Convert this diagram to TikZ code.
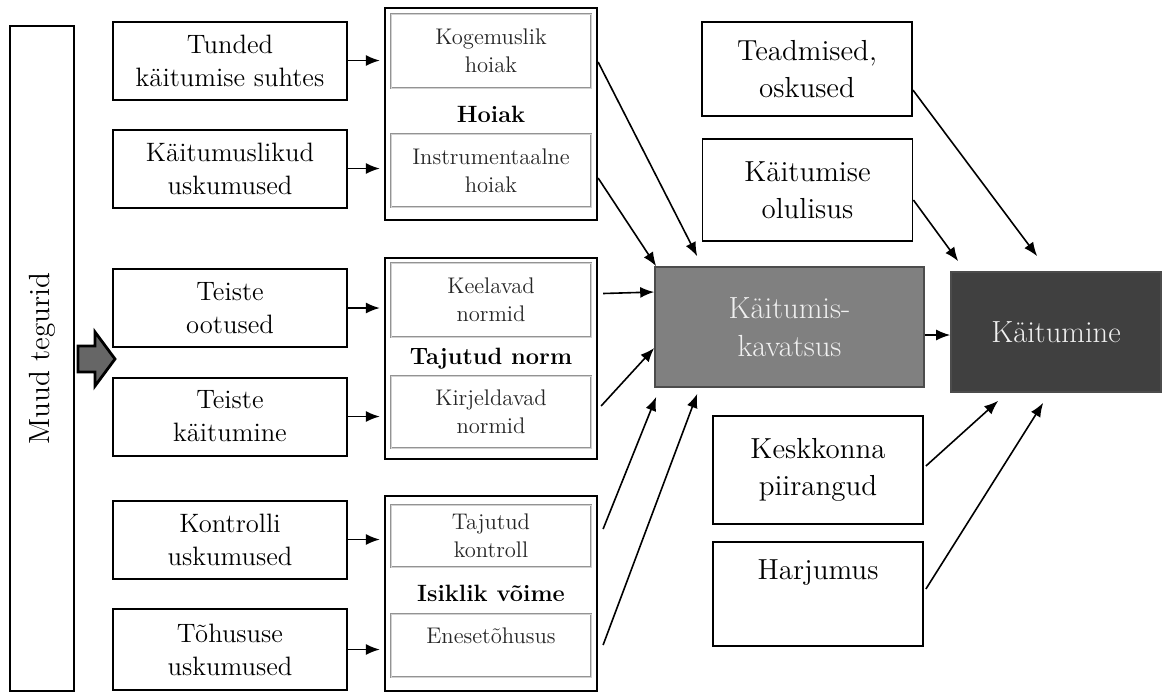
\documentclass[tikz,border=0pt]{standalone}
\usepackage{fontspec}
\usepackage{tikz}
\usetikzlibrary{arrows.meta}

\begin{document}
\begin{tikzpicture}[x=0.5pt,y=-0.5pt]
	\tikzstyle{every node}=[align=center, inner sep=0pt]
	\tikzstyle{faktor}=[draw, line width=1pt, minimum width=117pt, minimum height=39pt, font=\fontsize{13.3}{16.5}\selectfont]
	\tikzstyle{grupp}=[draw, line width=1.1pt, minimum width=106pt, font=\bfseries\fontsize{11.8}{14}\selectfont]
	\tikzstyle{alam}=[draw=gray!85, double=gray!35, double distance=0.5pt, line width=0.45pt, minimum width=100pt, text=black!85, font=\fontsize{11.3}{14}\selectfont]
	\tikzstyle{muu}=[draw, line width=0.9pt, minimum width=105pt, font=\fontsize{14.5}{18.5}\selectfont]
	\tikzstyle{tume}=[draw=black!70, line width=0.8pt, text=white!94!black, minimum height=60pt, font=\fontsize{15.3}{19}\selectfont]
	\tikzstyle{pil}=[-{Latex[length=7pt,width=5.5pt]}, line width=0.8pt]
	
	\useasboundingbox (0,0) rectangle (1163,693);
	
	\node[faktor, rotate=90, minimum width=332.5pt, minimum height=32pt, font=\fontsize{14.6}{17}\selectfont] (muud) at (42,358.5) {Muud tegurid};
	\draw[fill=black!60, line width=1.4pt, line join=miter] (78,346) -- (95,346) -- (95,332) -- (115,359) -- (95,386) -- (95,372) -- (78,372) -- cycle;
	
	\node[faktor] (tunded) at (230,60.5) {Tunded\\käitumise suhtes};
	\node[faktor] (kaitusk) at (230,168.5) {Käitumuslikud\\uskumused};
	\node[faktor] (ootused) at (230,308) {Teiste\\ootused};
	\node[faktor] (teistek) at (230,416.5) {Teiste\\käitumine};
	\node[faktor] (kontrolli) at (230,539.5) {Kontrolli\\uskumused};
	\node[faktor, minimum height=40.5pt] (tohusus) at (230,649.5) {Tõhususe\\uskumused};
	
	\node[grupp, minimum height=106pt] (hoiak) at (491,114) {Hoiak};
	\node[alam, minimum height=37pt] (kogemus) at (491,51) {Kogemuslik\\hoiak};
	\node[alam, minimum height=36.5pt] (instrum) at (491,170.5) {Instrumentaalne\\hoiak};
	
	\node[grupp, minimum height=100.5pt] (norm) at (491,358.5) {Tajutud norm};
	\node[alam, minimum height=37pt] (keelavad) at (491,300) {Keelavad\\normid};
	\node[alam, minimum height=36pt] (kirjeld) at (491,412) {Kirjeldavad\\normid};
	
	\node[grupp, minimum height=97.5pt] (voime) at (491,593.5) {Isiklik võime};
	\node[alam, minimum height=31pt] (tajkontroll) at (491,536) {Tajutud\\kontroll};
	\node[alam, minimum height=31.5pt] (enese) at (491,645.5) {Enesetõhusus\\[-4pt]\mbox{}};
	
	\node[muu, minimum height=47pt] (teadmised) at (807,69) {Teadmised,\\oskused};
	\node[muu, minimum height=51pt] (olulisus) at (807.5,190) {Käitumise\\olulisus};
	\node[tume, fill=black!50, minimum width=134.5pt] (kavatsus) at (789.5,327) {Käitumis-\\kavatsus};
	\node[tume, fill=black!75, minimum width=105pt] (kaitumine) at (1056,332) {Käitumine};
	\node[muu, minimum height=54pt] (keskkond) at (818,470) {Keskkonna\\piirangud};
	\node[muu, minimum height=52pt] (harjumus) at (818,594) {Harjumus\\[6pt]\mbox{}};
	
	\draw[pil, line width=0.9pt] (tunded.east) -- ([xshift=-2pt]tunded.east -| hoiak.west);
	\draw[pil, line width=0.9pt] (kaitusk.east) -- ([xshift=-2pt]kaitusk.east -| hoiak.west);
	\draw[pil, line width=0.9pt] (ootused.east) -- ([xshift=-2pt]ootused.east -| norm.west);
	\draw[pil, line width=0.9pt] (teistek.east) -- ([xshift=-2pt]teistek.east -| norm.west);
	\draw[pil, line width=0.9pt] (kontrolli.east) -- ([xshift=-2pt]kontrolli.east -| voime.west);
	\draw[pil, line width=0.9pt] (tohusus.east) -- ([xshift=-2pt]tohusus.east -| voime.west);
	
	\draw[pil] ([yshift=26pt]hoiak.east) -- ([xshift=21.5pt,yshift=5pt]kavatsus.north west);
	\draw[pil] ([yshift=-32pt]hoiak.east) -- ([xshift=1pt]kavatsus.north west);
	\draw[pil] ([xshift=2.5pt,yshift=32.5pt]norm.east) -- ([yshift=17.5pt]kavatsus.west);
	\draw[pil] ([xshift=1.5pt,yshift=-23.75pt]norm.east) -- ([yshift=-10.5pt]kavatsus.west);
	\draw[pil] ([xshift=2.5pt,yshift=32.25pt]voime.east) -- ([xshift=1pt,yshift=-4.5pt]kavatsus.south west);
	\draw[pil] ([xshift=2.5pt,yshift=-25.75pt]voime.east) -- ([xshift=21.5pt,yshift=-3pt]kavatsus.south west);
	
	\draw[pil] ([yshift=-4pt]kavatsus.east) -- ([yshift=-4pt]kavatsus.east -| kaitumine.west);
	\draw[pil] ([yshift=-5pt]olulisus.east) -- ([xshift=4pt,yshift=5pt]kaitumine.north west);
	\draw[pil] ([yshift=-10.5pt]teadmised.east) -- ([xshift=43.5pt,yshift=7.5pt]kaitumine.north west);
	\draw[pil] ([xshift=1pt,yshift=2pt]keskkond.east) -- ([xshift=24pt,yshift=-4pt]kaitumine.south west);
	\draw[pil] ([xshift=1pt,yshift=2.5pt]harjumus.east) -- ([xshift=46.5pt,yshift=-5pt]kaitumine.south west);
\end{tikzpicture}
\end{document}
